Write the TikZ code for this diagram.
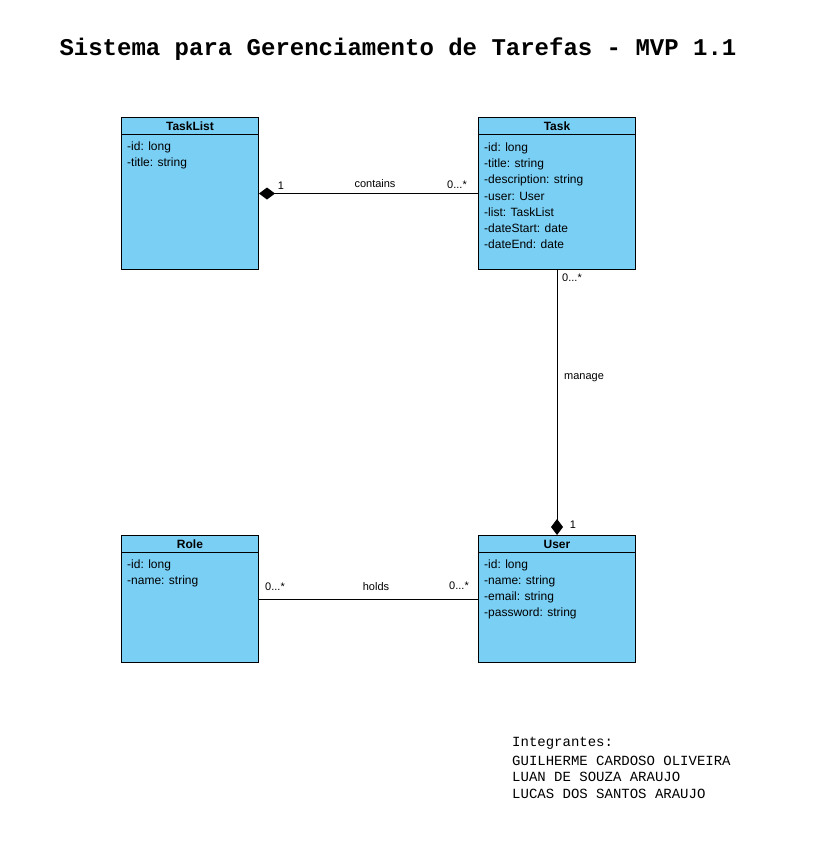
\documentclass[tikz,border=0pt]{standalone}
\usepackage{fontspec}
\setmainfont{Liberation Sans}
\newfontfamily\couriermono{Liberation Mono}
\usetikzlibrary{arrows.meta}

\definecolor{umlblue}{RGB}{122,207,245}

\tikzset{
	classbox/.style={draw, fill=umlblue, line width=1pt, anchor=north west, inner sep=0pt},
	classhead/.style={draw, fill=umlblue, line width=1pt, anchor=north west, inner sep=0pt, minimum height=17pt, font=\fontsize{12}{14}\selectfont\bfseries},
	attr/.style={anchor=west, inner sep=0pt, font=\fontsize{12}{14}\selectfont},
	linklabel/.style={inner sep=0pt, font=\fontsize{11}{13}\selectfont},
	link/.style={line width=1pt},
	composed/.style={line width=1pt, {Diamond[length=16pt,width=12pt]}-}
}

\begin{document}
\begin{tikzpicture}[x=1pt, y=-1pt]
	\useasboundingbox (0,0) rectangle (813,841);
	% Title
	\node[font=\couriermono\bfseries\fontsize{24}{28}\selectfont, inner sep=0pt] (title) at (398,49) {Sistema para Gerenciamento de Tarefas - MVP 1.1};
	% Classes
	\node[classbox, minimum width=137pt, minimum height=152pt] (tasklist) at (121,117) {};
	\node[classhead, minimum width=137pt] (tasklisthead) at (121,117) {TaskList};
	\foreach \a [count=\i] in {-id: long, -title: string}
		\node[attr] (tasklistattr\i) at (127,131+16*\i) {\a};

	\node[classbox, minimum width=157pt, minimum height=152pt] (task) at (478,117) {};
	\node[classhead, minimum width=157pt] (taskhead) at (478,117) {Task};
	\foreach \a [count=\i] in {-id: long, -title: string, -description: string, -user: User, -list: TaskList, -dateStart: date, -dateEnd: date}
		\node[attr] (taskattr\i) at (484,132+16*\i) {\a};

	\node[classbox, minimum width=137pt, minimum height=127pt] (role) at (121,535) {};
	\node[classhead, minimum width=137pt] (rolehead) at (121,535) {Role};
	\foreach \a [count=\i] in {-id: long, -name: string}
		\node[attr] (roleattr\i) at (127,549+16*\i) {\a};

	\node[classbox, minimum width=157pt, minimum height=127pt] (user) at (478,535) {};
	\node[classhead, minimum width=157pt] (userhead) at (478,535) {User};
	\foreach \a [count=\i] in {-id: long, -name: string, -email: string, -password: string}
		\node[attr] (userattr\i) at (484,549+16*\i) {\a};

	% Associations
	\draw[composed] (tasklist.east) -- (task.west);
	\node[linklabel] (containsone) at (281,186) {1};
	\node[linklabel] (containsname) at (375,184) {contains};
	\node[linklabel] (containsmany) at (457,185) {0...*};

	\draw[composed] (user.north) -- (task.south);
	\node[linklabel] (managemany) at (572,278) {0...*};
	\node[linklabel] (managename) at (584,378) {manage};
	\node[linklabel] (manageone) at (573,525) {1};

	\draw[link] (role.east) -- (user.west);
	\node[linklabel] (holdsleft) at (275,587) {0...*};
	\node[linklabel] (holdsname) at (376,587) {holds};
	\node[linklabel] (holdsright) at (459,586) {0...*};

	% Members
	\foreach \m [count=\i] in {Integrantes:, GUILHERME CARDOSO OLIVEIRA, LUAN DE SOUZA ARAUJO, LUCAS DOS SANTOS ARAUJO}
		\node[anchor=west, inner sep=0pt, font=\couriermono\fontsize{14}{16}\selectfont] (member\i) at (512,727+16.7*\i) {\m};
\end{tikzpicture}
\end{document}
